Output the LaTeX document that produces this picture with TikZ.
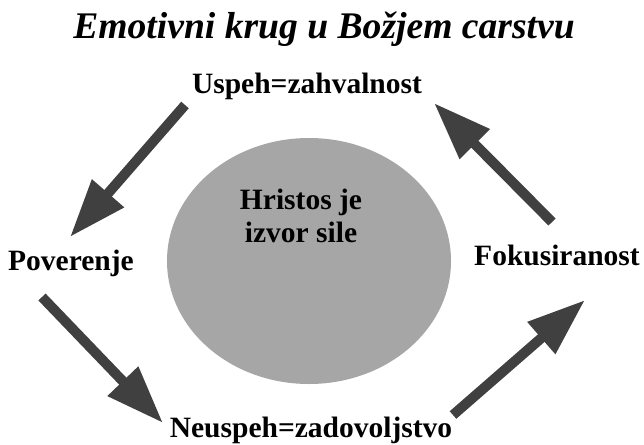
\documentclass[tikz,border=0pt]{standalone}
\usepackage{fontspec}
\setmainfont{Liberation Serif}
\usetikzlibrary{arrows.meta,shapes.geometric}
\definecolor{arrowgray}{HTML}{404040}
\definecolor{ellgray}{HTML}{A6A6A6}
\begin{document}
\begin{tikzpicture}[x=1pt,y=-1pt,
  lbl/.style={inner sep=0pt,anchor=base,font=\fontsize{29.5}{33}\selectfont\bfseries},
  ttl/.style={inner sep=0pt,anchor=base,font=\fontsize{37.6}{40}\selectfont\bfseries\itshape},
  bigarrow/.style={draw=arrowgray,line width=10pt,-{Triangle[length=58pt,width=40pt]},fill=arrowgray}]
\useasboundingbox (0,0) rectangle (644,444);
\fill[white] (0,0) rectangle (644,444);
\node[ttl] (title) at (324,38) {Emotivni krug u Božjem carstvu};
\node[ellipse,fill=ellgray,minimum width=284pt,minimum height=246pt,inner sep=0pt] (center) at (309,261) {};
\node[lbl,align=center] (hristos) at (301,242) {Hristos je\\izvor sile};
\node[lbl] (uspeh) at (307,93) {Uspeh=zahvalnost};
\node[lbl] (poverenje) at (71,270) {Poverenje};
\node[lbl] (fokus) at (557,265) {Fokusiranost};
\node[lbl] (neuspeh) at (311,437) {Neuspeh=zadovoljstvo};
\coordinate (a1s) at (185,105); \coordinate (a1e) at (70,237);
\coordinate (a2s) at (42,297);  \coordinate (a2e) at (163,423);
\coordinate (a3s) at (453,415); \coordinate (a3e) at (585,300);
\coordinate (a4s) at (552,222); \coordinate (a4e) at (434,103);
\draw[bigarrow] (a1s) -- (a1e);
\draw[bigarrow] (a2s) -- (a2e);
\draw[bigarrow] (a3s) -- (a3e);
\draw[bigarrow] (a4s) -- (a4e);
\end{tikzpicture}
\end{document}
